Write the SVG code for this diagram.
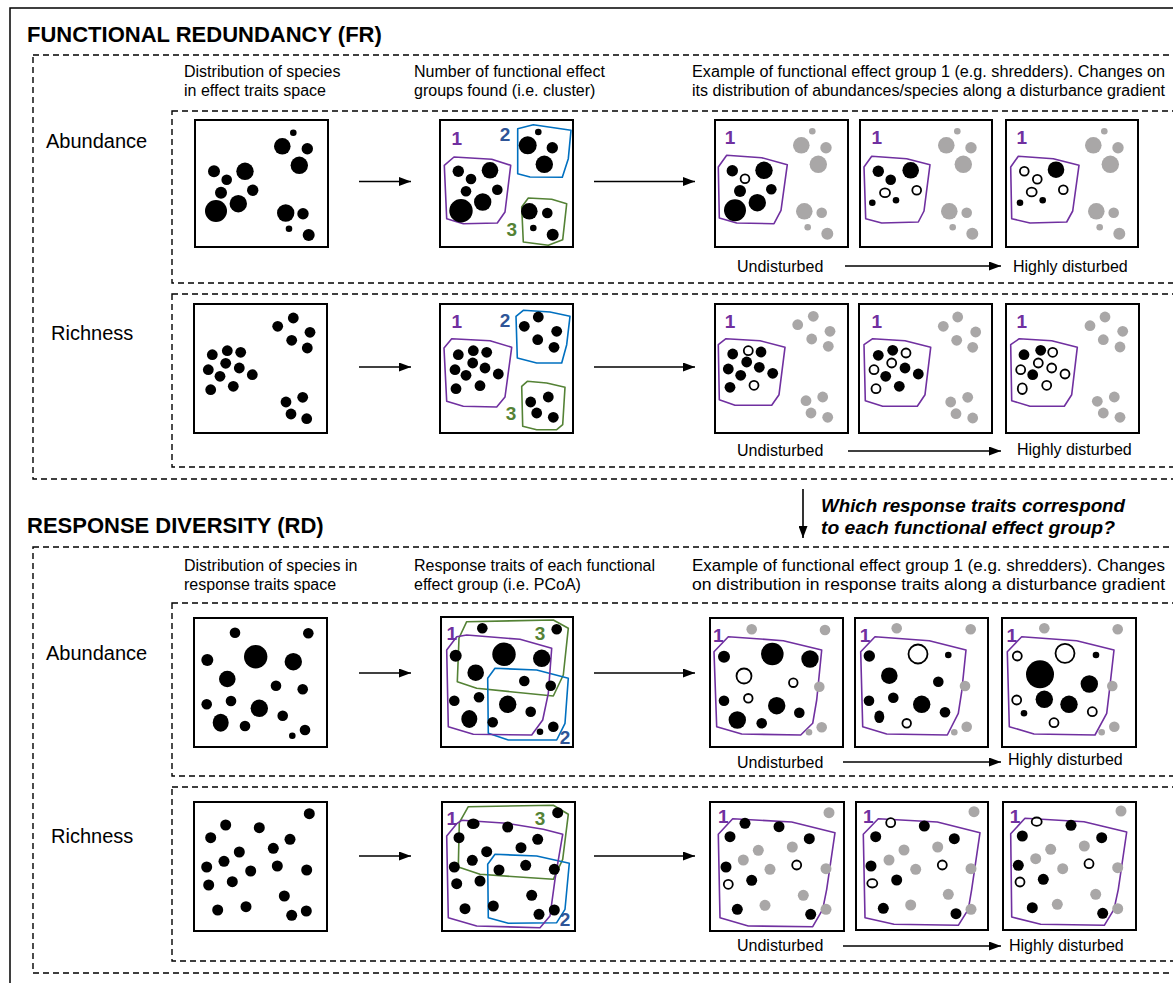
<svg xmlns="http://www.w3.org/2000/svg" width="1173" height="983" viewBox="0 0 1173 983">
<style>
  text { font-family: "Liberation Sans", Arial, sans-serif; fill: #000; }
  .title { font-size: 22px; font-weight: bold; }
  .hdr { font-size: 16px; }
  .row { font-size: 20px; }
  .grad { font-size: 16px; }
  .q { font-size: 18.5px; font-weight: bold; font-style: italic; }
  .n { font-size: 19px; font-weight: bold; text-anchor: middle; }
  .n1 { fill: #7030a0; }
  .n2 { fill: #2f5597; }
  .n3 { fill: #548235; }
  .box { fill: #fff; stroke: #000; stroke-width: 2; }
  .dash { fill: none; stroke: #000; stroke-width: 1.4; stroke-dasharray: 6 4; }
  .k { fill: #000; }
  .w { fill: #fff; stroke: #000; stroke-width: 1.8; }
  .g { fill: #a9a7a7; }
  .pp { fill: none; stroke: #7030a0; stroke-width: 1.6; stroke-linejoin: round; }
  .pb { fill: none; stroke: #0070c0; stroke-width: 1.6; stroke-linejoin: round; }
  .pg { fill: none; stroke: #548235; stroke-width: 1.6; stroke-linejoin: round; }
  .arr { fill: none; stroke: #000; stroke-width: 1.6; marker-end: url(#ah); }
</style>
<defs>
  <marker id="ah" markerWidth="12" markerHeight="9" refX="12" refY="4.5" orient="auto" markerUnits="userSpaceOnUse">
    <path d="M0,0 L12,4.5 L0,9 z" fill="#000"/>
  </marker>
</defs>

<!-- outer frame -->
<rect x="10" y="8" width="1200" height="1000" fill="none" stroke="#000" stroke-width="1.5"/>

<!-- section frames -->
<g id="frames">
  <rect class="dash" x="33" y="55" width="1200" height="424"/>
  <rect class="dash" x="172" y="111" width="1100" height="172"/>
  <rect class="dash" x="172" y="294" width="1100" height="173"/>
  <rect class="dash" x="33" y="547" width="1200" height="426"/>
  <rect class="dash" x="172" y="603" width="1100" height="173"/>
  <rect class="dash" x="172" y="787" width="1100" height="174"/>
</g>

<!-- titles and headers -->
<g id="labels">
  <text class="title" x="27" y="42">FUNCTIONAL REDUNDANCY (FR)</text>
  <text class="hdr" x="184" y="77">Distribution of species</text>
  <text class="hdr" x="184" y="96">in effect traits space</text>
  <text class="hdr" x="414" y="77">Number of functional effect</text>
  <text class="hdr" x="414" y="96">groups found (i.e. cluster)</text>
  <text class="hdr" x="692" y="77" textLength="473" lengthAdjust="spacingAndGlyphs">Example of functional effect group 1 (e.g. shredders). Changes on</text>
  <text class="hdr" x="692" y="96" textLength="473" lengthAdjust="spacingAndGlyphs">its distribution of abundances/species along a disturbance gradient</text>
  <text class="row" x="46" y="148">Abundance</text>
  <text class="row" x="51" y="340">Richness</text>

  <text class="q" x="821" y="512" textLength="304" lengthAdjust="spacingAndGlyphs">Which response traits correspond</text>
  <text class="q" x="821" y="534" textLength="294" lengthAdjust="spacingAndGlyphs">to each functional effect group?</text>

  <text class="title" x="27" y="533">RESPONSE DIVERSITY (RD)</text>
  <text class="hdr" x="184" y="571">Distribution of species in</text>
  <text class="hdr" x="184" y="590">response traits space</text>
  <text class="hdr" x="414" y="571">Response traits of each functional</text>
  <text class="hdr" x="414" y="590">effect group (i.e. PCoA)</text>
  <text class="hdr" x="692" y="571" textLength="473" lengthAdjust="spacingAndGlyphs">Example of functional effect group 1 (e.g. shredders). Changes</text>
  <text class="hdr" x="692" y="590" textLength="473" lengthAdjust="spacingAndGlyphs">on distribution in response traits along a disturbance gradient</text>
  <text class="row" x="46" y="660">Abundance</text>
  <text class="row" x="51" y="843">Richness</text>

  <text class="grad" x="737" y="272">Undisturbed</text>
  <text class="grad" x="1013" y="272">Highly disturbed</text>
  <text class="grad" x="737" y="456">Undisturbed</text>
  <text class="grad" x="1017" y="455">Highly disturbed</text>
  <text class="grad" x="737" y="768">Undisturbed</text>
  <text class="grad" x="1008" y="765">Highly disturbed</text>
  <text class="grad" x="737" y="951">Undisturbed</text>
  <text class="grad" x="1009" y="951">Highly disturbed</text>
</g>

<!-- connectors -->
<g id="connectors">
  <line class="arr" x1="359" y1="181.5" x2="411" y2="181.5"/>
  <line class="arr" x1="594" y1="181.5" x2="695" y2="181.5"/>
  <line class="arr" x1="359" y1="367" x2="411" y2="367"/>
  <line class="arr" x1="594" y1="367" x2="695" y2="367"/>
  <line class="arr" x1="359" y1="673" x2="411" y2="673"/>
  <line class="arr" x1="594" y1="673" x2="695" y2="673"/>
  <line class="arr" x1="359" y1="856" x2="411" y2="856"/>
  <line class="arr" x1="594" y1="856" x2="695" y2="856"/>
  <line class="arr" x1="845" y1="266" x2="1001" y2="266"/>
  <line class="arr" x1="848" y1="451" x2="1001" y2="451"/>
  <line class="arr" x1="843" y1="762" x2="1001" y2="762"/>
  <line class="arr" x1="843" y1="946" x2="1001" y2="946"/>
  <line class="arr" x1="803" y1="489" x2="803" y2="538"/>
</g>

<!-- ===== FR abundance ===== -->
<g id="fr-ab-space">
  <rect class="box" x="195" y="120" width="133" height="127"/>
  <circle class="k" cx="214" cy="171.3" r="6"/>
  <circle class="k" cx="245" cy="171.3" r="8.7"/>
  <circle class="k" cx="226.7" cy="179.7" r="5.3"/>
  <circle class="k" cx="252.7" cy="190.3" r="5.7"/>
  <circle class="k" cx="221" cy="192.7" r="6"/>
  <circle class="k" cx="238.3" cy="203.7" r="8.7"/>
  <circle class="k" cx="216" cy="211" r="11"/>
  <circle class="k" cx="293.3" cy="132.7" r="3.3"/>
  <circle class="k" cx="282.3" cy="146.3" r="8.3"/>
  <circle class="k" cx="307.3" cy="148.7" r="5.7"/>
  <circle class="k" cx="299.3" cy="165.3" r="8.7"/>
  <circle class="k" cx="285.7" cy="213" r="8.7"/>
  <circle class="k" cx="303" cy="213.7" r="5.7"/>
  <circle class="k" cx="289" cy="228.7" r="3.3"/>
  <circle class="k" cx="308.7" cy="235" r="6"/>
</g>
<g id="fr-ab-groups">
  <rect class="box" x="440" y="120" width="133" height="127"/>
  <polygon class="pp" points="444.3,165.3 454,157 491.7,159.3 510.7,165.3 505,212 497.3,223 463.3,223.7 446.7,218.7"/>
  <polygon class="pb" points="517.7,128.7 533.3,124.7 571,130.3 568.3,158.7 562.3,177.3 530,177 517.7,173.7"/>
  <polygon class="pg" points="521.7,207 528.3,198 551.7,199.3 566.7,203.7 562.7,239.7 548.3,245.3 523.3,242"/>
  <circle class="k" cx="458.3" cy="171.3" r="5.7"/>
  <circle class="k" cx="490" cy="170.3" r="8.3"/>
  <circle class="k" cx="471" cy="179" r="5.3"/>
  <circle class="k" cx="497.3" cy="189.7" r="5.3"/>
  <circle class="k" cx="466" cy="191.3" r="5.3"/>
  <circle class="k" cx="482.7" cy="202" r="8.7"/>
  <circle class="k" cx="461" cy="210.7" r="11.7"/>
  <circle class="k" cx="538.3" cy="132" r="3.3"/>
  <circle class="k" cx="527.7" cy="145.3" r="9"/>
  <circle class="k" cx="552.3" cy="147.7" r="5.7"/>
  <circle class="k" cx="544.3" cy="164.3" r="8.7"/>
  <circle class="k" cx="529.3" cy="211.3" r="8.3"/>
  <circle class="k" cx="547.3" cy="213" r="5.3"/>
  <circle class="k" cx="533.3" cy="228" r="3.3"/>
  <circle class="k" cx="552.7" cy="234.7" r="6"/>
  <text class="n n1" x="456.7" y="145">1</text>
  <text class="n n2" x="505" y="141">2</text>
  <text class="n n3" x="511.7" y="236">3</text>
</g>
<g id="fr-ab-g1-undisturbed">
  <rect class="box" x="715" y="120" width="133" height="127"/>
  <polygon class="pp" points="718.3,167 726.7,155.3 761.7,157.7 787.3,164.7 781,210.3 774,223.7 736.7,223 719.3,218"/>
  <circle class="k" cx="732.3" cy="170.7" r="5.7"/>
  <circle class="k" cx="764" cy="170.3" r="8.7"/>
  <circle class="w" cx="745" cy="178.7" r="4.4"/>
  <circle class="k" cx="771.3" cy="189.3" r="5.3"/>
  <circle class="k" cx="740" cy="191" r="6"/>
  <circle class="k" cx="757.3" cy="202.7" r="8.7"/>
  <circle class="k" cx="735" cy="210.3" r="11"/>
  <circle class="g" cx="812.3" cy="131.3" r="3.3"/>
  <circle class="g" cx="801.3" cy="145.3" r="8.3"/>
  <circle class="g" cx="826" cy="147.7" r="5.7"/>
  <circle class="g" cx="818.3" cy="164.3" r="8.7"/>
  <circle class="g" cx="804.3" cy="211.3" r="8.3"/>
  <circle class="g" cx="821.7" cy="212.7" r="5.3"/>
  <circle class="g" cx="807.7" cy="227.3" r="3.3"/>
  <circle class="g" cx="827.3" cy="233.7" r="6"/>
  <text class="n n1" x="730" y="144">1</text>
</g>
<g id="fr-ab-g1-mid">
  <rect class="box" x="860" y="120" width="132" height="127"/>
  <polygon class="pp" points="864,167 871.7,156.3 906.7,158.7 930,164.7 924,211 918.3,222 881.7,223 865.7,218.7"/>
  <circle class="k" cx="878.3" cy="171.3" r="5.7"/>
  <circle class="k" cx="910.7" cy="170.3" r="8.3"/>
  <circle class="k" cx="890.7" cy="179.7" r="5.3"/>
  <ellipse class="w" cx="885" cy="192.7" rx="5" ry="4.4"/>
  <circle class="w" cx="916.7" cy="190.3" r="4.4"/>
  <circle class="k" cx="872.3" cy="202.7" r="3.3"/>
  <circle class="k" cx="896" cy="200.3" r="3.3"/>
  <circle class="g" cx="957.3" cy="131.3" r="3.3"/>
  <circle class="g" cx="946.3" cy="145.3" r="8.3"/>
  <circle class="g" cx="971" cy="147.7" r="5.7"/>
  <circle class="g" cx="963.3" cy="164.3" r="8.7"/>
  <circle class="g" cx="949.3" cy="211.3" r="8.3"/>
  <circle class="g" cx="966.7" cy="212.7" r="5.3"/>
  <circle class="g" cx="952.7" cy="227.3" r="3.3"/>
  <circle class="g" cx="972.3" cy="233.7" r="6"/>
  <text class="n n1" x="876.7" y="144">1</text>
</g>
<g id="fr-ab-g1-disturbed">
  <rect class="box" x="1006" y="120" width="132" height="127"/>
  <polygon class="pp" points="1010.7,167 1018.3,156.3 1053.3,158.7 1079,165.3 1072.7,211 1066.7,222 1030,223 1011.7,218.7"/>
  <circle class="w" cx="1024.3" cy="171.3" r="4.4"/>
  <circle class="k" cx="1056" cy="169.7" r="8.3"/>
  <circle class="w" cx="1037.3" cy="179.3" r="4.4"/>
  <ellipse class="w" cx="1031.7" cy="192" rx="5" ry="4.4"/>
  <circle class="w" cx="1063.3" cy="189.7" r="4.4"/>
  <circle class="k" cx="1020" cy="202.7" r="3.3"/>
  <circle class="k" cx="1042.7" cy="200.3" r="3.3"/>
  <circle class="g" cx="1104.3" cy="131.3" r="3.3"/>
  <circle class="g" cx="1093.3" cy="145.3" r="8.3"/>
  <circle class="g" cx="1118" cy="147.7" r="5.7"/>
  <circle class="g" cx="1110.3" cy="164.3" r="8.7"/>
  <circle class="g" cx="1096.3" cy="211.3" r="8.3"/>
  <circle class="g" cx="1113.7" cy="212.7" r="5.3"/>
  <circle class="g" cx="1099.7" cy="227.3" r="3.3"/>
  <circle class="g" cx="1119.3" cy="233.7" r="6"/>
  <text class="n n1" x="1021.7" y="144">1</text>
</g>

<!-- ===== FR richness ===== -->
<g id="fr-ri-space">
  <rect class="box" x="194" y="304" width="133" height="129"/>
  <circle class="k" cx="277.7" cy="326.3" r="5.4"/>
  <circle class="k" cx="293.3" cy="318" r="5.4"/>
  <circle class="k" cx="310" cy="332.3" r="5.4"/>
  <circle class="k" cx="291.7" cy="340.3" r="5.4"/>
  <circle class="k" cx="307.3" cy="348" r="5.4"/>
  <circle class="k" cx="212.3" cy="354.7" r="5.4"/>
  <circle class="k" cx="227.3" cy="350.7" r="5.4"/>
  <circle class="k" cx="240.7" cy="352.3" r="5.4"/>
  <circle class="k" cx="225.7" cy="363.3" r="5.4"/>
  <circle class="k" cx="208.3" cy="369.7" r="5.4"/>
  <circle class="k" cx="239.3" cy="368" r="5.4"/>
  <circle class="k" cx="220" cy="376.3" r="5.4"/>
  <circle class="k" cx="252.3" cy="374.7" r="5.4"/>
  <circle class="k" cx="210.7" cy="389.7" r="5.4"/>
  <circle class="k" cx="233.3" cy="386.3" r="5.4"/>
  <circle class="k" cx="286" cy="402" r="5.4"/>
  <circle class="k" cx="302.7" cy="397.3" r="5.4"/>
  <circle class="k" cx="291" cy="414" r="5.4"/>
  <circle class="k" cx="306.7" cy="418.7" r="5.4"/>
</g>
<g id="fr-ri-groups">
  <rect class="box" x="440" y="304" width="133" height="129"/>
  <polygon class="pp" points="444,348 451.7,338.7 490,340.7 511.7,347.3 505,397 496.7,407 463.3,406.3 446.7,401.3"/>
  <polygon class="pb" points="516,316.3 523.3,310.3 550,312 570,316.3 566.7,344.7 561.7,363 536.7,363 517.3,358"/>
  <polygon class="pg" points="521.7,386.3 527.3,381.3 546.7,383 565,387.3 562.7,424.7 556.7,429.7 536.7,429.7 522.7,426.3"/>
  <circle class="k" cx="524.3" cy="326.3" r="5.4"/>
  <circle class="k" cx="538.3" cy="317" r="5.4"/>
  <circle class="k" cx="556.7" cy="331.3" r="5.4"/>
  <circle class="k" cx="537.7" cy="339.7" r="5.4"/>
  <circle class="k" cx="554" cy="347.3" r="5.4"/>
  <circle class="k" cx="458.3" cy="354.7" r="5.4"/>
  <circle class="k" cx="473.3" cy="350.7" r="5.4"/>
  <circle class="k" cx="486.7" cy="352.3" r="5.4"/>
  <circle class="k" cx="472.7" cy="363" r="5.4"/>
  <circle class="k" cx="455" cy="369.7" r="5.4"/>
  <circle class="k" cx="485" cy="368" r="5.4"/>
  <circle class="k" cx="466" cy="375.3" r="5.4"/>
  <circle class="k" cx="498.3" cy="374" r="5.4"/>
  <circle class="k" cx="456" cy="388.7" r="5.4"/>
  <circle class="k" cx="480" cy="385.7" r="5.4"/>
  <circle class="k" cx="530.7" cy="402" r="5.4"/>
  <circle class="k" cx="548.3" cy="397" r="5.4"/>
  <circle class="k" cx="536.7" cy="413" r="5.4"/>
  <circle class="k" cx="553.3" cy="417.3" r="5.4"/>
  <text class="n n1" x="456.7" y="328">1</text>
  <text class="n n2" x="505" y="327">2</text>
  <text class="n n3" x="511" y="420">3</text>
</g>
<g id="fr-ri-g1-undisturbed">
  <rect class="box" x="715" y="304" width="133" height="129"/>
  <polygon class="pp" points="718.3,344.7 726,338.7 760,340.7 785,347.3 779,394.7 771.7,405.3 735,405.3 719.3,399.7"/>
  <circle class="k" cx="732.7" cy="354" r="5.4"/>
  <circle class="w" cx="748.3" cy="350.7" r="4.5"/>
  <circle class="k" cx="761" cy="352" r="5.4"/>
  <circle class="k" cx="746.7" cy="362" r="5.4"/>
  <circle class="k" cx="728.3" cy="369" r="5.4"/>
  <circle class="k" cx="759.3" cy="367.3" r="5.4"/>
  <circle class="k" cx="740.7" cy="375.3" r="5.4"/>
  <circle class="k" cx="772.7" cy="373.3" r="5.4"/>
  <circle class="k" cx="730" cy="387.3" r="5.4"/>
  <circle class="w" cx="754" cy="385.3" r="4.5"/>
  <circle class="g" cx="797.7" cy="324.7" r="5.4"/>
  <circle class="g" cx="813.3" cy="316.3" r="5.4"/>
  <circle class="g" cx="830" cy="331.3" r="5.4"/>
  <circle class="g" cx="811.7" cy="339" r="5.4"/>
  <circle class="g" cx="828.3" cy="346.3" r="5.4"/>
  <circle class="g" cx="806" cy="400.7" r="5.4"/>
  <circle class="g" cx="822.7" cy="397" r="5.4"/>
  <circle class="g" cx="811" cy="413" r="5.4"/>
  <circle class="g" cx="827.7" cy="417.3" r="5.4"/>
  <text class="n n1" x="730" y="328">1</text>
</g>
<g id="fr-ri-g1-mid">
  <rect class="box" x="859" y="304" width="133" height="129"/>
  <polygon class="pp" points="864,344.7 872.7,338.7 905,340.7 930.7,347.3 925,394.7 917.3,406.3 882.7,406.3 865.3,400.7"/>
  <circle class="k" cx="878.3" cy="355.3" r="5.4"/>
  <circle class="k" cx="892.7" cy="350.3" r="5.4"/>
  <circle class="w" cx="906" cy="353" r="4.5"/>
  <circle class="w" cx="891.7" cy="363" r="4.5"/>
  <circle class="w" cx="874" cy="369.7" r="4.5"/>
  <circle class="k" cx="905" cy="368" r="5.4"/>
  <circle class="k" cx="885.7" cy="376.3" r="5.4"/>
  <circle class="k" cx="918.3" cy="374" r="5.4"/>
  <circle class="w" cx="876" cy="388.7" r="4.5"/>
  <circle class="k" cx="899.3" cy="386.3" r="5.4"/>
  <circle class="g" cx="943.3" cy="326.3" r="5.4"/>
  <circle class="g" cx="957.7" cy="317" r="5.4"/>
  <circle class="g" cx="975.7" cy="332" r="5.4"/>
  <circle class="g" cx="956.7" cy="340.3" r="5.4"/>
  <circle class="g" cx="972.7" cy="347.3" r="5.4"/>
  <circle class="g" cx="950.7" cy="402" r="5.4"/>
  <circle class="g" cx="967.7" cy="397.3" r="5.4"/>
  <circle class="g" cx="956" cy="413.7" r="5.4"/>
  <circle class="g" cx="972.7" cy="418" r="5.4"/>
  <text class="n n1" x="876.7" y="328">1</text>
</g>
<g id="fr-ri-g1-disturbed">
  <rect class="box" x="1006" y="304" width="133" height="129"/>
  <polygon class="pp" points="1010.7,344.7 1019.3,338.7 1051.7,340.7 1077.3,347.3 1071.7,394.7 1064.3,406.3 1030,406.3 1011.7,400.7"/>
  <circle class="k" cx="1024" cy="354.7" r="5.4"/>
  <circle class="k" cx="1040.7" cy="350.3" r="5.4"/>
  <circle class="w" cx="1052.7" cy="352.3" r="4.5"/>
  <circle class="w" cx="1038.3" cy="363" r="4.5"/>
  <circle class="w" cx="1020.7" cy="369.7" r="4.5"/>
  <circle class="w" cx="1051.7" cy="368" r="4.5"/>
  <circle class="k" cx="1032.7" cy="374.7" r="5.4"/>
  <circle class="w" cx="1065" cy="374" r="4.5"/>
  <ellipse class="w" cx="1022.3" cy="388.7" rx="4.5" ry="5.3"/>
  <circle class="w" cx="1046.7" cy="385.3" r="4.5"/>
  <circle class="g" cx="1090" cy="325.7" r="5.4"/>
  <circle class="g" cx="1105" cy="317" r="5.4"/>
  <circle class="g" cx="1122.7" cy="331.3" r="5.4"/>
  <circle class="g" cx="1103.3" cy="339.7" r="5.4"/>
  <circle class="g" cx="1120" cy="347" r="5.4"/>
  <circle class="g" cx="1097.3" cy="401.3" r="5.4"/>
  <circle class="g" cx="1114.3" cy="397" r="5.4"/>
  <circle class="g" cx="1103.3" cy="413" r="5.4"/>
  <circle class="g" cx="1120" cy="417.3" r="5.4"/>
  <text class="n n1" x="1021.7" y="328">1</text>
</g>

<!-- ===== RD abundance ===== -->
<g id="rd-ab-space">
  <rect class="box" x="194" y="618" width="133" height="129"/>
  <circle class="k" cx="235" cy="632.7" r="5.3"/>
  <circle class="k" cx="308.3" cy="633.3" r="5.3"/>
  <circle class="k" cx="207.3" cy="660" r="6"/>
  <circle class="k" cx="255.7" cy="656.7" r="11.7"/>
  <circle class="k" cx="293.3" cy="661.7" r="8.7"/>
  <circle class="k" cx="227.3" cy="679" r="8.3"/>
  <circle class="k" cx="276" cy="685.7" r="5.3"/>
  <circle class="k" cx="302.7" cy="689.3" r="5.3"/>
  <circle class="k" cx="206.7" cy="704.3" r="5.3"/>
  <circle class="k" cx="231" cy="701" r="5.3"/>
  <circle class="k" cx="259.3" cy="708.3" r="8.7"/>
  <circle class="k" cx="282.7" cy="715.7" r="5.3"/>
  <ellipse class="k" cx="220.7" cy="722.7" rx="8" ry="9"/>
  <circle class="k" cx="245" cy="726" r="5.3"/>
  <circle class="k" cx="305" cy="730" r="5.3"/>
  <circle class="k" cx="292.3" cy="735.7" r="3.3"/>
</g>
<g id="rd-ab-groups">
  <rect class="box" x="441" y="617" width="132" height="130"/>
  <polygon class="pg" points="466.7,621.7 553.3,620 568.3,628.3 563.3,675 553.3,696 476.7,688.3 457.3,681.7 459,638"/>
  <polygon class="pb" points="487.7,678.3 495,668.3 536.7,670 568.3,678.3 565,723.3 556.7,740 508.3,740 488.3,733.3"/>
  <polygon class="pp" points="446.7,650 456.7,636.7 466.7,635 520,639.3 551.7,648.3 548.3,693.3 542.7,720 531.7,735 473.3,734.3 448.3,726.7"/>
  <circle class="k" cx="482.3" cy="628.3" r="5.3"/>
  <circle class="k" cx="556.7" cy="629.3" r="5.3"/>
  <circle class="k" cx="455.7" cy="655.7" r="6"/>
  <circle class="k" cx="504" cy="654.3" r="11.7"/>
  <circle class="k" cx="541.7" cy="658.3" r="8.7"/>
  <circle class="k" cx="475.7" cy="672.7" r="8.3"/>
  <circle class="k" cx="524.3" cy="681" r="5.3"/>
  <circle class="k" cx="550.7" cy="685.7" r="5.3"/>
  <circle class="k" cx="454.3" cy="700.7" r="5.3"/>
  <circle class="k" cx="479" cy="697.3" r="5.3"/>
  <circle class="k" cx="507.7" cy="704.3" r="8.7"/>
  <circle class="k" cx="530.7" cy="711.7" r="5.3"/>
  <ellipse class="k" cx="469.3" cy="719" rx="8" ry="9"/>
  <circle class="k" cx="492.7" cy="722.3" r="5.3"/>
  <circle class="k" cx="553.3" cy="726.7" r="5.3"/>
  <circle class="k" cx="540" cy="731.7" r="3.3"/>
  <text class="n n1" x="451.7" y="640">1</text>
  <text class="n n3" x="540" y="640">3</text>
  <text class="n n2" x="565" y="744">2</text>
</g>
<g id="rd-ab-g1-undisturbed">
  <rect class="box" x="710" y="618" width="133" height="129"/>
  <polygon class="pp" points="714,651.7 728.3,636.7 783.3,640.7 821.7,650 816.7,700 812.7,723.3 800.7,735 741.7,734 716.7,726.7"/>
  <circle class="g" cx="751.7" cy="629.3" r="5.3"/>
  <circle class="g" cx="825" cy="630" r="5.3"/>
  <circle class="g" cx="819.3" cy="686.7" r="5.3"/>
  <circle class="g" cx="821.7" cy="727.3" r="5.3"/>
  <circle class="g" cx="809" cy="732.3" r="3.3"/>
  <circle class="k" cx="724" cy="656.7" r="6"/>
  <circle class="k" cx="772.3" cy="654" r="11.3"/>
  <circle class="k" cx="810" cy="659" r="8.7"/>
  <circle class="w" cx="744" cy="676" r="7.5"/>
  <circle class="w" cx="793.3" cy="682.7" r="4.3"/>
  <circle class="k" cx="724" cy="700.7" r="5.3"/>
  <circle class="w" cx="748.3" cy="698.3" r="4.3"/>
  <circle class="k" cx="776.7" cy="705.7" r="8.7"/>
  <circle class="k" cx="799.3" cy="712.7" r="5.3"/>
  <circle class="k" cx="737.3" cy="720" r="8.7"/>
  <circle class="k" cx="761.7" cy="723.3" r="5.3"/>
  <text class="n n1" x="718.3" y="642">1</text>
</g>
<g id="rd-ab-g1-mid">
  <rect class="box" x="855" y="618" width="133" height="129"/>
  <polygon class="pp" points="860.7,651.7 875,636.7 929.3,640.7 966,650 961.7,691.7 958.3,713.3 947.3,735 886.7,734 862.7,726.7"/>
  <circle class="g" cx="896.7" cy="628.3" r="5.3"/>
  <circle class="g" cx="970.7" cy="629.3" r="5.3"/>
  <circle class="g" cx="965" cy="686" r="5.3"/>
  <circle class="g" cx="966.7" cy="726.7" r="5.3"/>
  <circle class="g" cx="954.3" cy="732.3" r="3.3"/>
  <circle class="k" cx="869.3" cy="656" r="5.7"/>
  <circle class="w" cx="918" cy="654" r="9.5"/>
  <circle class="k" cx="948.3" cy="655" r="3.3"/>
  <circle class="k" cx="889.3" cy="675.7" r="8.3"/>
  <circle class="k" cx="938.3" cy="681.7" r="5.3"/>
  <circle class="k" cx="869" cy="700.7" r="5.3"/>
  <circle class="k" cx="893.3" cy="697.7" r="5.3"/>
  <circle class="k" cx="921.7" cy="704.3" r="8.7"/>
  <ellipse class="k" cx="879.3" cy="716.7" rx="5" ry="6.3"/>
  <circle class="k" cx="945" cy="712.3" r="5.3"/>
  <circle class="w" cx="906.7" cy="723.3" r="4.3"/>
  <text class="n n1" x="865" y="642">1</text>
</g>
<g id="rd-ab-g1-disturbed">
  <rect class="box" x="1002" y="618" width="134" height="129"/>
  <polygon class="pp" points="1007.3,651.7 1021.7,636.7 1076.7,640.7 1114,650 1109.3,691.7 1106.7,713.3 1095,735 1034,734 1009.3,726.7"/>
  <circle class="g" cx="1044.3" cy="628.3" r="5.3"/>
  <circle class="g" cx="1117.7" cy="629.3" r="5.3"/>
  <circle class="g" cx="1112.3" cy="686" r="5.3"/>
  <circle class="g" cx="1114.3" cy="726.7" r="5.3"/>
  <circle class="g" cx="1101.7" cy="732.3" r="3.3"/>
  <circle class="w" cx="1017.3" cy="656" r="4.5"/>
  <circle class="w" cx="1065" cy="653.3" r="9.5"/>
  <circle class="k" cx="1096" cy="655" r="3.3"/>
  <circle class="k" cx="1040" cy="674.3" r="14"/>
  <circle class="k" cx="1089.3" cy="684" r="8.7"/>
  <circle class="w" cx="1016.7" cy="700" r="4.5"/>
  <circle class="k" cx="1044.3" cy="699.3" r="8.7"/>
  <circle class="k" cx="1069" cy="704.3" r="8.7"/>
  <circle class="w" cx="1092.3" cy="711.7" r="4.5"/>
  <circle class="k" cx="1024" cy="713.3" r="3.3"/>
  <circle class="w" cx="1054" cy="722.7" r="4.5"/>
  <text class="n n1" x="1011.7" y="642">1</text>
</g>

<!-- ===== RD richness ===== -->
<g id="rd-ri-space">
  <rect class="box" x="194" y="802" width="133" height="129"/>
  <circle class="k" cx="309.3" cy="813.7" r="5.5"/>
  <circle class="k" cx="225.7" cy="825" r="5.5"/>
  <circle class="k" cx="259.3" cy="827.7" r="5.5"/>
  <circle class="k" cx="210.7" cy="837.7" r="5.5"/>
  <circle class="k" cx="290" cy="839.3" r="5.5"/>
  <circle class="k" cx="239.3" cy="852" r="5.5"/>
  <circle class="k" cx="273.3" cy="848.3" r="5.5"/>
  <circle class="k" cx="224" cy="861.3" r="5.5"/>
  <circle class="k" cx="206.7" cy="867" r="5.5"/>
  <circle class="k" cx="250.7" cy="871" r="5.5"/>
  <circle class="k" cx="277.3" cy="866" r="5.5"/>
  <circle class="k" cx="306.7" cy="870" r="5.5"/>
  <circle class="k" cx="232.3" cy="881.7" r="5.5"/>
  <circle class="k" cx="208.7" cy="885" r="5.5"/>
  <circle class="k" cx="284.3" cy="896" r="5.5"/>
  <circle class="k" cx="217.7" cy="910" r="5.5"/>
  <circle class="k" cx="246" cy="906.7" r="5.5"/>
  <circle class="k" cx="291.7" cy="915.3" r="5.5"/>
  <circle class="k" cx="306.3" cy="911" r="5.5"/>
</g>
<g id="rd-ri-groups">
  <rect class="box" x="442" y="802" width="133" height="129"/>
  <polygon class="pg" points="468.3,806.7 553.3,805.3 568.3,814.3 562.7,859.3 553.3,879.3 480,874.3 458.3,867 459.3,822.7"/>
  <polygon class="pb" points="487.7,864.3 495,854.3 536.7,856 569.3,863.3 565,909.3 556.7,922.7 508.3,923.3 488.3,917.7"/>
  <polygon class="pp" points="446.7,836 456.7,823.7 461.7,820.3 506.7,823.3 543.3,829.3 562.7,834.3 555,879.3 550,916 540,927.7 476.7,926 448.3,917.7"/>
  <circle class="k" cx="557.7" cy="812.7" r="5.5"/>
  <ellipse class="k" cx="473.3" cy="823.7" rx="6.3" ry="5.3"/>
  <circle class="k" cx="507.7" cy="827" r="5.5"/>
  <circle class="k" cx="459" cy="837.7" r="5.5"/>
  <circle class="k" cx="537.7" cy="839.3" r="5.5"/>
  <circle class="k" cx="486.7" cy="851.7" r="5.5"/>
  <circle class="k" cx="521" cy="847.7" r="5.5"/>
  <circle class="k" cx="472.3" cy="860.3" r="5.5"/>
  <circle class="k" cx="454.3" cy="867" r="5.5"/>
  <circle class="k" cx="499" cy="870" r="5.5"/>
  <circle class="k" cx="525.7" cy="865.3" r="5.5"/>
  <circle class="k" cx="554.3" cy="869.3" r="5.5"/>
  <circle class="k" cx="480" cy="881" r="5.5"/>
  <circle class="k" cx="456.7" cy="883.7" r="5.5"/>
  <circle class="k" cx="531.7" cy="895.3" r="5.5"/>
  <circle class="k" cx="465" cy="908.7" r="5.5"/>
  <circle class="k" cx="493.3" cy="906" r="5.5"/>
  <circle class="k" cx="539" cy="914.3" r="5.5"/>
  <circle class="k" cx="554.3" cy="910" r="5.5"/>
  <text class="n n1" x="451.7" y="825">1</text>
  <text class="n n3" x="540" y="825">3</text>
  <text class="n n2" x="565" y="926">2</text>
</g>
<g id="rd-ri-g1-undisturbed">
  <rect class="box" x="710" y="802" width="134" height="129"/>
  <polygon class="pp" points="718.3,834.3 732.7,818.7 791.7,822 835,832.7 826.7,889.3 822.7,909.3 812.7,926.7 748.3,926 720,917.7"/>
  <circle class="g" cx="829" cy="812.7" r="5.5"/>
  <circle class="g" cx="758.3" cy="850.3" r="5.5"/>
  <circle class="g" cx="792.3" cy="847" r="5.5"/>
  <circle class="g" cx="743.3" cy="860" r="5.5"/>
  <circle class="g" cx="770" cy="869.3" r="5.5"/>
  <circle class="g" cx="826" cy="868.7" r="5.5"/>
  <circle class="g" cx="803.3" cy="895.3" r="5.5"/>
  <circle class="g" cx="765" cy="905.3" r="5.5"/>
  <circle class="g" cx="826" cy="909.3" r="5.5"/>
  <circle class="k" cx="745" cy="823.3" r="5.5"/>
  <circle class="k" cx="779" cy="826.7" r="5.5"/>
  <circle class="k" cx="730" cy="836.7" r="5.5"/>
  <circle class="k" cx="809.3" cy="838.7" r="5.5"/>
  <circle class="w" cx="796.7" cy="865" r="4.5"/>
  <circle class="k" cx="726" cy="867" r="5.5"/>
  <circle class="k" cx="751.7" cy="880.3" r="5.5"/>
  <circle class="w" cx="728.3" cy="884.3" r="4.5"/>
  <circle class="k" cx="737.3" cy="909.3" r="5.5"/>
  <circle class="k" cx="810.7" cy="914.3" r="5.5"/>
  <text class="n n1" x="723.3" y="823">1</text>
</g>
<g id="rd-ri-g1-mid">
  <rect class="box" x="856" y="802" width="132" height="128"/>
  <polygon class="pp" points="863.3,834.3 878.3,818.7 937.3,822 980,832.7 971.7,889.3 968.3,909.3 958.3,925.3 894,924.3 865,917.7"/>
  <circle class="g" cx="974" cy="811.7" r="5.5"/>
  <circle class="g" cx="904" cy="850" r="5.5"/>
  <circle class="g" cx="937.7" cy="847" r="5.5"/>
  <circle class="g" cx="889" cy="860" r="5.5"/>
  <circle class="g" cx="915.7" cy="869.3" r="5.5"/>
  <circle class="g" cx="971" cy="868.7" r="5.5"/>
  <circle class="g" cx="948.3" cy="894.3" r="5.5"/>
  <circle class="g" cx="910.7" cy="905" r="5.5"/>
  <circle class="g" cx="971" cy="909.3" r="5.5"/>
  <circle class="w" cx="890.7" cy="822.7" r="4.5"/>
  <circle class="k" cx="924.3" cy="826" r="5.5"/>
  <circle class="k" cx="875.7" cy="836.7" r="5.5"/>
  <circle class="k" cx="954.3" cy="838.7" r="5.5"/>
  <circle class="w" cx="942.3" cy="865" r="4.5"/>
  <circle class="k" cx="871" cy="866" r="5.5"/>
  <circle class="k" cx="896.7" cy="880" r="5.5"/>
  <ellipse class="w" cx="872.3" cy="883.3" rx="5" ry="4.2"/>
  <circle class="k" cx="883.3" cy="908.3" r="5.5"/>
  <circle class="k" cx="956" cy="913.7" r="5.5"/>
  <text class="n n1" x="868.3" y="823">1</text>
</g>
<g id="rd-ri-g1-disturbed">
  <rect class="box" x="1003" y="802" width="133" height="128"/>
  <polygon class="pp" points="1010.7,833.7 1025,818.3 1084,821.7 1126.7,832 1118.3,889.3 1114,909.3 1104.3,925.3 1040.7,924.3 1011.7,917"/>
  <circle class="g" cx="1121" cy="811" r="5.5"/>
  <circle class="g" cx="1050.7" cy="849.3" r="5.5"/>
  <circle class="g" cx="1084.3" cy="846" r="5.5"/>
  <circle class="g" cx="1035.7" cy="858.7" r="5.5"/>
  <circle class="g" cx="1062.7" cy="868.7" r="5.5"/>
  <circle class="g" cx="1117.7" cy="867.7" r="5.5"/>
  <circle class="g" cx="1095.7" cy="894.3" r="5.5"/>
  <circle class="g" cx="1057.3" cy="904.3" r="5.5"/>
  <circle class="g" cx="1117.7" cy="908.7" r="5.5"/>
  <ellipse class="w" cx="1036.7" cy="821.7" rx="5" ry="4.2"/>
  <circle class="k" cx="1071" cy="825.3" r="5.5"/>
  <circle class="k" cx="1022.3" cy="836" r="5.5"/>
  <circle class="k" cx="1101.7" cy="837.7" r="5.5"/>
  <circle class="w" cx="1089" cy="863.7" r="4.5"/>
  <circle class="k" cx="1018.3" cy="865.3" r="5.5"/>
  <circle class="k" cx="1043.3" cy="879.3" r="5.5"/>
  <circle class="w" cx="1020" cy="882" r="4.5"/>
  <circle class="k" cx="1032.3" cy="907.7" r="5.5"/>
  <circle class="k" cx="1102.7" cy="913.3" r="5.5"/>
  <text class="n n1" x="1015" y="823">1</text>
</g>
</svg>
